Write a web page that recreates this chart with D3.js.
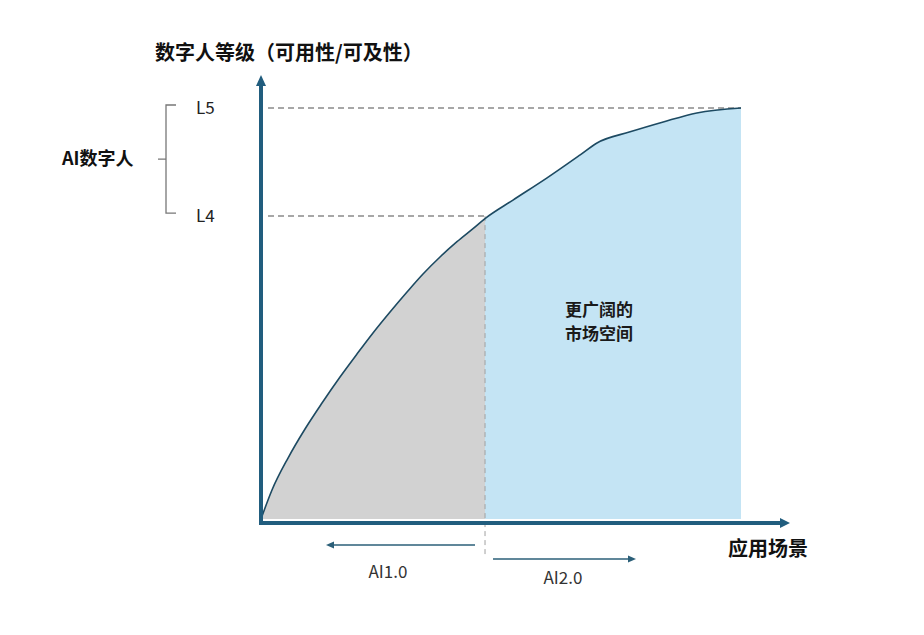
<!DOCTYPE html>
<html><head><meta charset="utf-8">
<script src="https://cdn.jsdelivr.net/npm/d3@7"></script>
<style>
html,body{margin:0;padding:0;background:#fff;}
text{font-family:"Noto Sans CJK SC","Noto Sans",sans-serif;}
</style></head>
<body><svg id="c" width="924" height="635"></svg>
<script>
// ---- data ----
const scenario = [0, 2.29, 5.63, 9.17, 12.71, 16.46, 20.0, 23.33, 26.88, 30.42, 33.75, 37.29, 40.83, 44.17, 46.67, 52.5, 59.6, 66.5, 70, 76.9, 83.8, 90.8, 100];
const level    = [0, 7.06, 14.84, 21.9, 28.22, 34.55, 40.15, 45.26, 50.36, 55.23, 59.61, 63.75, 67.47, 70.66, 73.1, 77.6, 83.0, 88.6, 91.5, 94.2, 96.6, 98.8, 100];
const levelTicks = [73.7, 100];
const levelTickLabels = ["L4", "L5"];
const splitAt = 46.67;
const eraLabels = ["AI1.0", "AI2.0"];
const title = "数字人等级（可用性/可及性）";
const xTitle = "应用场景";
const groupLabel = "AI数字人";
const areaLabel = ["更广阔的", "市场空间"];

// ---- layout ----
const svg = d3.select("#c");
const x = d3.scaleLinear().domain([0, 100]).range([261, 741]);
const y = d3.scaleLinear().domain([0, 100]).range([519, 108]);
const axisColor = "#215d7e";
const data = scenario.map((s, i) => ({s, v: level[i]}));

const curve = d3.curveMonotoneX;
const area = d3.area().x(d => x(d.s)).y0(y(0)).y1(d => y(d.v)).curve(curve);
const line = d3.line().x(d => x(d.s)).y(d => y(d.v)).curve(curve);

const defs = svg.append("defs");
defs.append("clipPath").attr("id", "left").append("rect")
  .attr("x", x(0) - 2).attr("y", 0).attr("width", x(splitAt) - x(0) + 2).attr("height", 635);
defs.append("clipPath").attr("id", "right").append("rect")
  .attr("x", x(splitAt)).attr("y", 0).attr("width", x(100) - x(splitAt)).attr("height", 635);

svg.append("path").datum(data).attr("d", area).attr("fill", "#d2d2d2").attr("clip-path", "url(#left)");
svg.append("path").datum(data).attr("d", area).attr("fill", "#c4e4f4").attr("clip-path", "url(#right)");

// dashed guides
levelTicks.forEach((v, i) => {
  svg.append("line").attr("x1", x(0) + 7).attr("x2", i === 1 ? x(100) : x(splitAt))
    .attr("y1", y(v)).attr("y2", y(v))
    .attr("stroke", "#8a8a8a").attr("stroke-width", 1.5).attr("stroke-dasharray", "6,4");
});
svg.append("line").attr("x1", x(splitAt)).attr("x2", x(splitAt))
  .attr("y1", y(levelTicks[0])).attr("y2", 558)
  .attr("stroke", "#a0a0a0").attr("stroke-width", 1).attr("stroke-dasharray", "5,4");

// curve
svg.append("path").datum(data).attr("d", line).attr("fill", "none")
  .attr("stroke", "#1d4a62").attr("stroke-width", 1.6);

// axes
svg.append("line").attr("x1", x(0)).attr("x2", x(0)).attr("y1", 525).attr("y2", 84)
  .attr("stroke", axisColor).attr("stroke-width", 4);
svg.append("path").attr("d", `M${x(0)-5},86 L${x(0)},75 L${x(0)+5},86 Z`).attr("fill", axisColor);
svg.append("line").attr("x1", 259).attr("x2", 782).attr("y1", 523).attr("y2", 523)
  .attr("stroke", axisColor).attr("stroke-width", 4);
svg.append("path").attr("d", `M780,518 L790,523 L780,528 Z`).attr("fill", axisColor);

// level tick labels
levelTicks.forEach((v, i) => {
  svg.append("text").attr("x", 196).attr("y", y(v)).attr("dy", "0.35em")
    .attr("font-size", 17).attr("fill", "#222").text(levelTickLabels[i]);
});

// bracket
const bt = y(levelTicks[1]) - 3, bb = y(levelTicks[0]) - 3, bm = (bt + bb) / 2;
svg.append("path")
  .attr("d", `M176,${bt} L166,${bt} L166,${bb} L176,${bb} M158,${bm} L166,${bm}`)
  .attr("fill", "none").attr("stroke", "#777").attr("stroke-width", 1.3);
svg.append("text").attr("x", 62).attr("y", bm).attr("dy", "0.35em")
  .attr("font-size", 18).attr("font-weight", "bold").attr("fill", "#111").text(groupLabel);

// titles
svg.append("text").attr("x", 155).attr("y", 60).attr("font-size", 20).attr("font-weight", "bold")
  .attr("fill", "#111").text(title);
svg.append("text").attr("x", 728).attr("y", 556).attr("font-size", 20).attr("font-weight", "bold")
  .attr("fill", "#111").text(xTitle);

// area label
areaLabel.forEach((t, i) => {
  svg.append("text").attr("x", 599).attr("y", 316 + i * 24).attr("text-anchor", "middle")
    .attr("font-size", 17).attr("font-weight", "bold").attr("fill", "#1a1a1a").text(t);
});

// era arrows
const arrowColor = "#2b5f78";
svg.append("line").attr("x1", x(splitAt) - 10).attr("x2", 332).attr("y1", 545).attr("y2", 545)
  .attr("stroke", arrowColor).attr("stroke-width", 1.3);
svg.append("path").attr("d", "M326,545 L334,541.5 L334,548.5 Z").attr("fill", arrowColor);
svg.append("line").attr("x1", x(splitAt) + 8).attr("x2", 630).attr("y1", 559).attr("y2", 559)
  .attr("stroke", arrowColor).attr("stroke-width", 1.3);
svg.append("path").attr("d", "M636,559 L628,555.5 L628,562.5 Z").attr("fill", arrowColor);

svg.append("text").attr("x", 388).attr("y", 572).attr("dy", "0.35em").attr("text-anchor", "middle")
  .attr("font-size", 17).attr("fill", "#333").text(eraLabels[0]);
svg.append("text").attr("x", 563).attr("y", 578).attr("dy", "0.35em").attr("text-anchor", "middle")
  .attr("font-size", 17).attr("fill", "#333").text(eraLabels[1]);
</script></body></html>
